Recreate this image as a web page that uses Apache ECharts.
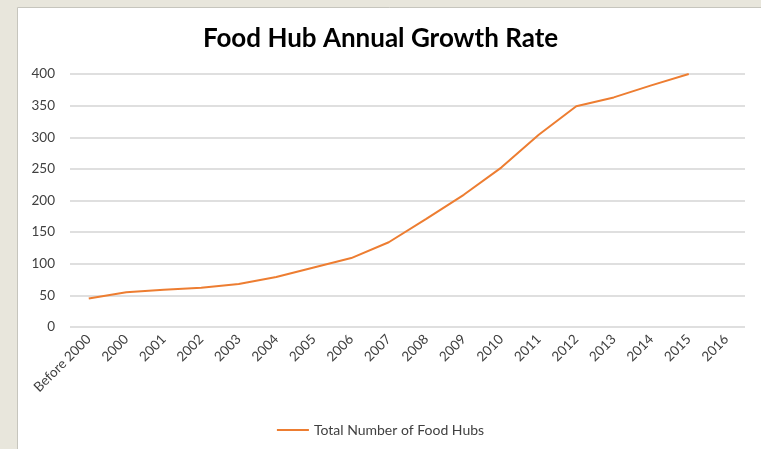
<!DOCTYPE html>
<html>
<head>
<meta charset="utf-8">
<script src="https://cdn.jsdelivr.net/npm/echarts@6/dist/echarts.min.js"></script>
<style>
  html, body { margin: 0; padding: 0; background: #e8e6dc; }
  #chart { width: 761px; height: 449px; }
</style>
</head>
<body>
<div id="chart"></div>
<script>
// Food hub counts by year
const years = ['Before 2000', '2000', '2001', '2002', '2003', '2004', '2005', '2006', '2007',
  '2008', '2009', '2010', '2011', '2012', '2013', '2014', '2015', '2016'];
const totalHubs = [45, 55, 59, 62, 68, 79, 94, 109, 134, 171, 209, 252, 304, 349, 363, 382, 400, null];
const seriesName = 'Total Number of Food Hubs';
const chartTitle = 'Food Hub Annual Growth Rate';

const chart = echarts.init(document.getElementById('chart'), null, { renderer: 'canvas' });
const font = 'Lato, "Open Sans", sans-serif';

chart.setOption({
  backgroundColor: 'transparent',
  animation: false,
  graphic: [{
    type: 'rect',
    z: -10,
    shape: { x: 17.5, y: 7.5, width: 800, height: 500 },
    style: { fill: '#ffffff', stroke: '#c6c5bd', lineWidth: 1 }
  }],
  title: {
    text: chartTitle,
    left: 'center',
    top: 21,
    textStyle: { fontFamily: font, fontWeight: 'bold', fontSize: 26, color: '#000000' }
  },
  legend: {
    bottom: 7,
    left: 'center',
    itemWidth: 32,
    itemHeight: 2,
    icon: 'rect',
    itemGap: 10,
    textStyle: { fontFamily: font, fontSize: 14, color: '#404040' },
    data: [seriesName]
  },
  grid: { left: 70, right: 16, top: 74, bottom: 122 },
  xAxis: {
    type: 'category',
    data: years,
    boundaryGap: true,
    axisLine: { show: false },
    axisTick: { show: false },
    axisLabel: {
      rotate: 45,
      interval: 0,
      margin: 10,
      fontFamily: font,
      fontSize: 13.5,
      color: '#404040'
    }
  },
  yAxis: {
    type: 'value',
    min: 0,
    max: 400,
    interval: 50,
    axisLine: { show: false },
    axisTick: { show: false },
    axisLabel: { fontFamily: font, fontSize: 13.5, color: '#404040', margin: 15 },
    splitLine: { lineStyle: { color: '#d4d4d4', width: 1.5 } }
  },
  series: [{
    name: seriesName,
    type: 'line',
    data: totalHubs,
    symbol: 'none',
    smooth: false,
    lineStyle: { color: '#ED7D31', width: 2 },
    itemStyle: { color: '#ED7D31' }
  }]
});
</script>
</body>
</html>
